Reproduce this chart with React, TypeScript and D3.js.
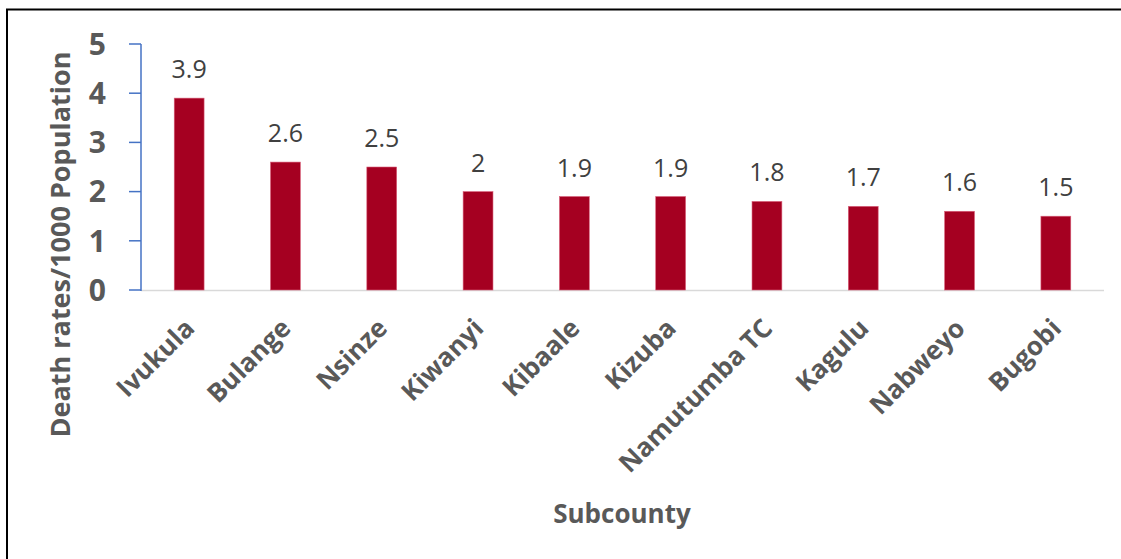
import React from "react";
import * as d3 from "d3";

const categories = ["Ivukula", "Bulange", "Nsinze", "Kiwanyi", "Kibaale", "Kizuba", "Namutumba TC", "Kagulu", "Nabweyo", "Bugobi"];
const values = [3.9, 2.6, 2.5, 2, 1.9, 1.9, 1.8, 1.7, 1.6, 1.5];
const yTicks = [0, 1, 2, 3, 4, 5];
const yTitle = "Death rates/1000 Population";
const xTitle = "Subcounty";

const W = 1121;
const H = 559;
const left = 141;
const right = 1104;
const top = 44;
const bottom = 290;
const FONT = "'Open Sans', 'DejaVu Sans', sans-serif";

export default function App() {
  const x = d3.scaleBand<string>().domain(categories).range([left, right]).paddingInner(0.69).paddingOuter(0.345);
  const y = d3.scaleLinear().domain([0, 5]).range([bottom, top]);
  return (
    <svg width={W} height={H} style={{ position: "absolute", left: 0, top: 0, background: "#fff" }}>
      <rect x={7} y={9.5} width={W + 10} height={H + 10} fill="#fff" stroke="#000" strokeWidth={2} />
      {/* x axis line */}
      <line x1={left} x2={right} y1={bottom + 0.5} y2={bottom + 0.5} stroke="#d9d9d9" strokeWidth={1.5} />
      {categories.map((c, i) => (
        <g key={c}>
          <rect x={x(c)!} y={y(values[i])} width={x.bandwidth()} height={bottom - y(values[i])} fill="#A50021" stroke="#d9607a" strokeWidth={0.6} />
          <text x={x(c)! + x.bandwidth() / 2} y={y(values[i]) - 20} textAnchor="middle" fontFamily={FONT} fontSize={25} fill="#404040">
            {String(values[i])}
          </text>
          <text
            transform={`translate(${x(c)! + x.bandwidth() / 2 + 7},${bottom + 40}) rotate(-45)`}
            textAnchor="end"
            fontFamily={FONT}
            fontSize={26}
            fontWeight="bold"
            fill="#595959"
          >
            {c}
          </text>
        </g>
      ))}
      {/* y axis */}
      <line x1={left} x2={left} y1={top} y2={bottom + 1} stroke="#4472C4" strokeWidth={1.5} />
      {yTicks.map((t) => (
        <g key={t}>
          <line x1={129} x2={left} y1={y(t)} y2={y(t)} stroke="#4472C4" strokeWidth={1.5} />
          <text x={106} y={y(t)} dy="0.36em" textAnchor="end" fontFamily={FONT} fontSize={30} fontWeight="bold" fill="#595959">
            {t}
          </text>
        </g>
      ))}
      <text transform={`translate(70,${(52 + 437) / 2}) rotate(-90)`} textAnchor="middle" fontFamily={FONT} fontSize={27} fontWeight="bold" fill="#595959">
        {yTitle}
      </text>
      <text x={622} y={523} textAnchor="middle" fontFamily={FONT} fontSize={26} fontWeight="bold" fill="#595959">
        {xTitle}
      </text>
    </svg>
  );
}
